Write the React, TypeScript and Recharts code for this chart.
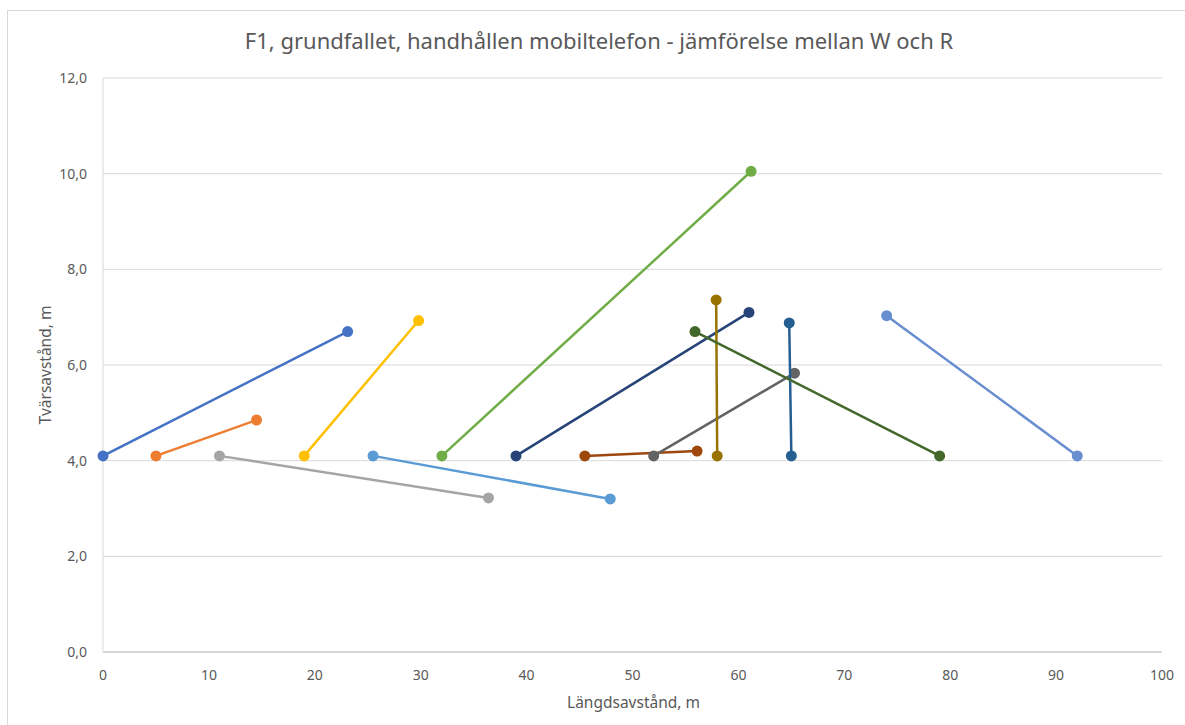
import React from "react"
import { ScatterChart, Scatter, XAxis, YAxis, CartesianGrid } from "recharts"

// each pair: [x, y] start and end point (m)
const seriesColors = [
  "#4472C4", "#ED7D31", "#A5A5A5", "#FFC000", "#5B9BD5", "#70AD47",
  "#264478", "#9E480E", "#636363", "#997300", "#255E91", "#43682B", "#698ED0",
]
const startX = [0, 5, 11, 19, 25.5, 32, 39, 45.5, 52, 58, 65, 79, 92]
const startY = [4.1, 4.1, 4.1, 4.1, 4.1, 4.1, 4.1, 4.1, 4.1, 4.1, 4.1, 4.1, 4.1]
const endX = [23.1, 14.5, 36.4, 29.8, 47.9, 61.2, 61.0, 56.1, 65.3, 57.9, 64.8, 55.9, 74.0]
const endY = [6.7, 4.85, 3.22, 6.93, 3.2, 10.05, 7.1, 4.2, 5.83, 7.36, 6.88, 6.7, 7.03]

const xTicks = [0, 10, 20, 30, 40, 50, 60, 70, 80, 90, 100]
const yTicks = [0, 2, 4, 6, 8, 10, 12]

const font = "Noto Sans, sans-serif"

export default function App() {
  const series = seriesColors.map((color, i) => ({
    color,
    data: [
      { x: startX[i], y: startY[i] },
      { x: endX[i], y: endY[i] },
    ],
  }))

  return (
    <div style={{ position: "absolute", left: 0, top: 0, width: 1185, height: 725, background: "#fff", fontFamily: font }}>
      <div style={{ position: "absolute", left: 7, top: 10, width: 1200, height: 740, border: "1px solid #d9d9d9" }} />
      <div style={{ position: "absolute", left: 0, width: 1198, top: 25, textAlign: "center", fontSize: 22, color: "#595959" }}>
        F1, grundfallet, handhållen mobiltelefon - jämförelse mellan W och R
      </div>
      <div style={{ position: "absolute", left: 0, width: 1267, top: 691, textAlign: "center", fontSize: 15.5, color: "#595959" }}>
        Längdsavstånd, m
      </div>
      <div
        style={{
          position: "absolute", left: 45, top: 365, fontSize: 15.5, color: "#595959", whiteSpace: "nowrap",
          transform: "translate(-50%, -50%) rotate(-90deg)",
        }}
      >
        Tvärsavstånd, m
      </div>
      <div style={{ position: "absolute", left: 0, top: 0 }}>
        <ScatterChart width={1185} height={725} margin={{ top: 78, right: 23, bottom: 43, left: 53 }}>
          <CartesianGrid horizontal vertical={false} stroke="#d9d9d9" />
          <XAxis
            type="number"
            dataKey="x"
            domain={[0, 100]}
            ticks={xTicks}
            height={30}
            tickLine={false}
            axisLine={{ stroke: "#bfbfbf" }}
            tick={{ fill: "#595959", fontSize: 14, fontFamily: font }}
            tickMargin={12}
          />
          <YAxis
            type="number"
            dataKey="y"
            domain={[0, 12]}
            ticks={yTicks}
            width={50}
            tickLine={false}
            axisLine={{ stroke: "#d9d9d9" }}
            tick={{ fill: "#595959", fontSize: 14, fontFamily: font }}
            tickFormatter={(v: number) => v.toFixed(1).replace(".", ",")}
            tickMargin={10}
          />
          {series.map((s, i) => (
            <Scatter
              key={i}
              data={s.data}
              fill={s.color}
              line={{ stroke: s.color, strokeWidth: 2.5 }}
              shape={(p: any) => <circle cx={p.cx} cy={p.cy} r={5.5} fill={s.color} />}
              isAnimationActive={false}
            />
          ))}
        </ScatterChart>
      </div>
    </div>
  )
}
